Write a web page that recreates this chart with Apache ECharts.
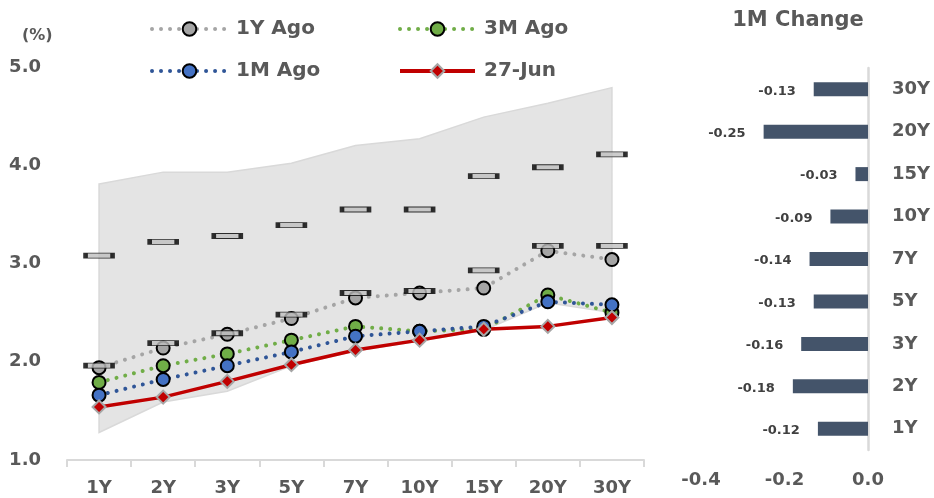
<!DOCTYPE html>
<html>
<head>
<meta charset="utf-8">
<script src="https://cdn.jsdelivr.net/npm/echarts@6/dist/echarts.min.js"></script>
<style>
  html, body { margin: 0; padding: 0; background: #ffffff; }
  #chart { width: 934px; height: 498px; }
</style>
</head>
<body>
<div id="chart"></div>
<script>
// Tenors
const tenors = ['1Y', '2Y', '3Y', '5Y', '7Y', '10Y', '15Y', '20Y', '30Y'];

// 1-year range band (high / low)
const rangeHigh = [3.81, 3.93, 3.93, 4.02, 4.20, 4.27, 4.49, 4.63, 4.79];
const rangeLow  = [1.28, 1.59, 1.70, 1.96, 2.11, 2.21, 2.32, 2.60, 2.50];

// Bar markers inside the band
const markHigh = [3.08, 3.22, 3.28, 3.39, 3.55, 3.55, 3.89, 3.98, 4.11];
const markLow  = [1.96, 2.19, 2.29, 2.48, 2.70, 2.72, 2.93, 3.18, 3.18];

// Yield curves (%)
const yearAgo   = [1.94, 2.14, 2.28, 2.44, 2.65, 2.70, 2.75, 3.13, 3.04];
const threeMAgo = [1.79, 1.96, 2.08, 2.22, 2.36, 2.31, 2.33, 2.68, 2.50];
const oneMAgo   = [1.66, 1.82, 1.96, 2.10, 2.26, 2.31, 2.36, 2.61, 2.58];
const latest    = [1.54, 1.64, 1.80, 1.97, 2.12, 2.22, 2.33, 2.36, 2.45];

// 1M change (%p)
const change1M  = [-0.12, -0.18, -0.16, -0.13, -0.14, -0.09, -0.03, -0.25, -0.13];

// Axis ticks
const yieldTicks = { min: 1, max: 5, interval: 1 };
const changeTicks = { min: -0.4, max: 0, interval: 0.2 };

const FONT = 'DejaVu Sans';
const GREY_TEXT = '#595959';

const chart = echarts.init(document.getElementById('chart'), null, { renderer: 'canvas' });

function dottedLine(color) {
  return { color: color, width: 4, type: [0.01, 9], cap: 'round' };
}

function circleItem(fill) {
  return { color: fill, borderColor: '#000000', borderWidth: 2 };
}

const legendText = { fontFamily: FONT, fontSize: 20, fontWeight: 'bold', color: GREY_TEXT, padding: [0, 0, 0, 4] };
function legendAt(name, left, top, lineStyle) {
  return {
    data: [name], left: left, top: top, itemWidth: 75, itemHeight: 17,
    textStyle: legendText, selectedMode: false, padding: 0,
    lineStyle: lineStyle
  };
}

const option = {
  backgroundColor: '#ffffff',
  animation: false,
  textStyle: { fontFamily: FONT },
  title: [
    { text: '(%)', left: 22, top: 28, textStyle: { fontFamily: FONT, fontSize: 16, fontWeight: 'bold', color: GREY_TEXT }, padding: 0 },
    { text: '1M Change', left: 798, textAlign: 'center', top: 10, textStyle: { fontFamily: FONT, fontSize: 21, fontWeight: 'bold', color: GREY_TEXT }, padding: 0 }
  ],
  legend: [
    legendAt('1Y Ago', 150, 19, dottedLine('#a5a5a5')),
    legendAt('3M Ago', 398, 19, dottedLine('#70ad47')),
    legendAt('1M Ago', 150, 61, dottedLine('#2f5597')),
    legendAt('27-Jun', 398, 61, { color: '#c00000', width: 4 })
  ],
  grid: [
    { left: 67, right: 290, top: 67, bottom: 38 },
    { left: 701, right: 66, top: 68, bottom: 48 }
  ],
  xAxis: [
    {
      gridIndex: 0, type: 'category', data: tenors, boundaryGap: true,
      axisLine: { lineStyle: { color: '#d9d9d9', width: 2 } },
      axisTick: { show: true, length: 7, lineStyle: { color: '#d9d9d9', width: 2 } },
      axisLabel: { fontFamily: FONT, fontSize: 18, fontWeight: 'bold', color: GREY_TEXT, margin: 19 },
      splitLine: { show: false }
    },
    {
      gridIndex: 1, type: 'value', min: changeTicks.min, max: changeTicks.max, interval: changeTicks.interval,
      axisLine: { show: false }, axisTick: { show: false }, splitLine: { show: false },
      axisLabel: { fontFamily: FONT, fontSize: 18, fontWeight: 'bold', color: GREY_TEXT, margin: 21,
        formatter: v => v.toFixed(1) }
    }
  ],
  yAxis: [
    {
      gridIndex: 0, type: 'value', min: yieldTicks.min, max: yieldTicks.max, interval: yieldTicks.interval,
      axisLine: { show: false }, axisTick: { show: false }, splitLine: { show: false },
      axisLabel: { fontFamily: FONT, fontSize: 18, fontWeight: 'bold', color: GREY_TEXT, margin: 26,
        formatter: v => v.toFixed(1) }
    },
    {
      gridIndex: 1, type: 'category', data: tenors, position: 'right',
      axisLine: { show: true, lineStyle: { color: '#d9d9d9', width: 2.5 } },
      axisTick: { show: false }, splitLine: { show: false },
      axisLabel: { fontFamily: FONT, fontSize: 18, fontWeight: 'bold', color: GREY_TEXT, margin: 24 }
    }
  ],
  series: [
    {
      name: 'Range', type: 'custom', xAxisIndex: 0, yAxisIndex: 0, silent: true, z: 1,
      data: [0],
      renderItem: function (params, api) {
        const pts = [];
        for (let i = 0; i < tenors.length; i++) pts.push(api.coord([i, rangeHigh[i]]));
        for (let i = tenors.length - 1; i >= 0; i--) pts.push(api.coord([i, rangeLow[i]]));
        return {
          type: 'polygon',
          shape: { points: pts },
          style: { fill: '#e4e4e4', stroke: '#d9d9d9', lineWidth: 1.5 }
        };
      }
    },
    {
      name: '1Y Ago', type: 'line', xAxisIndex: 0, yAxisIndex: 0, data: yearAgo, z: 3,
      lineStyle: dottedLine('#a5a5a5'),
      symbol: 'circle', symbolSize: 13, itemStyle: circleItem('#a5a5a5')
    },
    {
      name: '3M Ago', type: 'line', xAxisIndex: 0, yAxisIndex: 0, data: threeMAgo, z: 3,
      lineStyle: dottedLine('#70ad47'),
      symbol: 'circle', symbolSize: 13, itemStyle: circleItem('#70ad47')
    },
    {
      name: '1M Ago', type: 'line', xAxisIndex: 0, yAxisIndex: 0, data: oneMAgo, z: 3,
      lineStyle: dottedLine('#2f5597'),
      symbol: 'circle', symbolSize: 13, itemStyle: circleItem('#4472c4')
    },
    {
      name: '27-Jun', type: 'line', xAxisIndex: 0, yAxisIndex: 0, data: latest, z: 3,
      lineStyle: { color: '#c00000', width: 3.5 },
      symbol: 'diamond', symbolSize: 13,
      itemStyle: { color: '#c00000', borderColor: '#a6a6a6', borderWidth: 2 }
    },
    {
      name: 'High', type: 'scatter', xAxisIndex: 0, yAxisIndex: 0, data: markHigh, z: 4,
      symbol: 'rect', symbolSize: [27, 5],
      itemStyle: { color: '#bfbfbf', borderColor: '#000000', borderWidth: 2 }
    },
    {
      name: 'Low', type: 'scatter', xAxisIndex: 0, yAxisIndex: 0, data: markLow, z: 4,
      symbol: 'rect', symbolSize: [27, 5],
      itemStyle: { color: '#bfbfbf', borderColor: '#000000', borderWidth: 2 }
    },
    {
      name: '1M Change', type: 'bar', xAxisIndex: 1, yAxisIndex: 1, data: change1M,
      barWidth: 14, itemStyle: { color: '#44546a' },
      label: {
        show: true, position: 'left', distance: 18, offset: [0, 2],
        fontFamily: FONT, fontSize: 13, fontWeight: 'bold', color: '#404040',
        formatter: p => p.value.toFixed(2)
      }
    }
  ]
};

chart.setOption(option);
</script>
</body>
</html>
